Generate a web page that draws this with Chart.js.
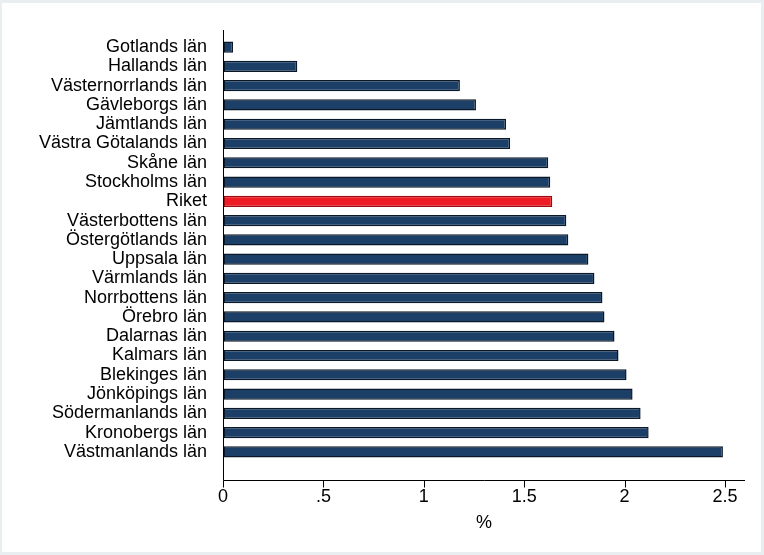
<!DOCTYPE html>
<html>
<head>
<meta charset="utf-8">
<script src="https://cdn.jsdelivr.net/npm/chart.js@4"></script>
<style>
  html, body { margin: 0; padding: 0; background: #fff; }
  #wrap { width: 764px; height: 555px; }
</style>
</head>
<body>
<div id="wrap"><canvas id="chart" width="764" height="555"></canvas></div>
<script>
// counties, sorted as in the figure (top to bottom)
const counties = [
  "Gotlands län", "Hallands län", "Västernorrlands län", "Gävleborgs län",
  "Jämtlands län", "Västra Götalands län", "Skåne län", "Stockholms län",
  "Riket", "Västerbottens län", "Östergötlands län", "Uppsala län",
  "Värmlands län", "Norrbottens län", "Örebro län", "Dalarnas län",
  "Kalmars län", "Blekinges län", "Jönköpings län", "Södermanlands län",
  "Kronobergs län", "Västmanlands län"
];
const percent = [
  0.05, 0.37, 1.18, 1.26,
  1.41, 1.43, 1.62, 1.63,
  1.64, 1.71, 1.72, 1.82,
  1.85, 1.89, 1.90, 1.95,
  1.97, 2.01, 2.04, 2.08,
  2.12, 2.49
];
const xTicks = [0, 0.5, 1, 1.5, 2, 2.5];
const highlight = "Riket";

const font = "'Liberation Sans', Arial, sans-serif";

// Stata-like frame + axis lines sitting outside the plot area
const axisLines = {
  id: "axisLines",
  beforeDraw(chart) {
    const ctx = chart.ctx;
    ctx.save();
    ctx.fillStyle = "#e9eef1";
    ctx.fillRect(0, 0, chart.width, chart.height);
    ctx.fillStyle = "#ffffff";
    ctx.fillRect(2, 3, chart.width - 5, chart.height - 6);
    ctx.restore();
  },
  afterDraw(chart) {
    const ctx = chart.ctx;
    const x = chart.scales.x;
    const x0 = 223.5, yTop = 30, yAxis = 480.5;
    ctx.save();
    ctx.strokeStyle = "#000";
    ctx.lineWidth = 1;
    ctx.beginPath();
    ctx.moveTo(x0, yTop);
    ctx.lineTo(x0, yAxis);
    ctx.lineTo(x.right, yAxis);
    xTicks.forEach(v => {
      const px = Math.round(x.getPixelForValue(v)) + 0.5;
      ctx.moveTo(px, yAxis);
      ctx.lineTo(px, yAxis + 7);
    });
    ctx.stroke();
    ctx.restore();
  }
};

new Chart(document.getElementById("chart"), {
  type: "bar",
  data: {
    labels: counties,
    datasets: [{
      data: percent,
      backgroundColor: counties.map(c => c === highlight ? "#ee1c25" : "#1c3f68"),
      borderColor: counties.map(c => c === highlight ? "#9a0c10" : "#0a1828"),
      borderWidth: 1.5,
      borderSkipped: false,
      barPercentage: 0.58,
      categoryPercentage: 1
    }]
  },
  options: {
    indexAxis: "y",
    responsive: false,
    animation: false,
    layout: { padding: { top: 37.5, right: 19, bottom: 0, left: 0 } },
    plugins: { legend: { display: false }, tooltip: { enabled: false } },
    scales: {
      y: {
        grid: { display: false },
        border: { display: false },
        ticks: { color: "#000", font: { family: font, size: 18 }, padding: 8, autoSkip: false },
        afterFit: s => { s.width = 223; }
      },
      x: {
        min: 0,
        max: 2.6,
        grid: { display: true, drawOnChartArea: false, drawTicks: true, tickLength: 21, color: "rgba(0,0,0,0)" },
        border: { display: false },
        ticks: {
          stepSize: 0.5,
          includeBounds: false,
          color: "#000",
          font: { family: font, size: 18 },
          padding: 4,
          callback: v => String(v).replace(/^0\./, ".")
        },
        title: {
          display: true,
          text: "%",
          color: "#000",
          font: { family: font, size: 18 },
          padding: { top: 0, bottom: 21 }
        },
        afterFit: s => { s.height = 93.5; }
      }
    }
  },
  plugins: [axisLines]
});
</script>
</body>
</html>
